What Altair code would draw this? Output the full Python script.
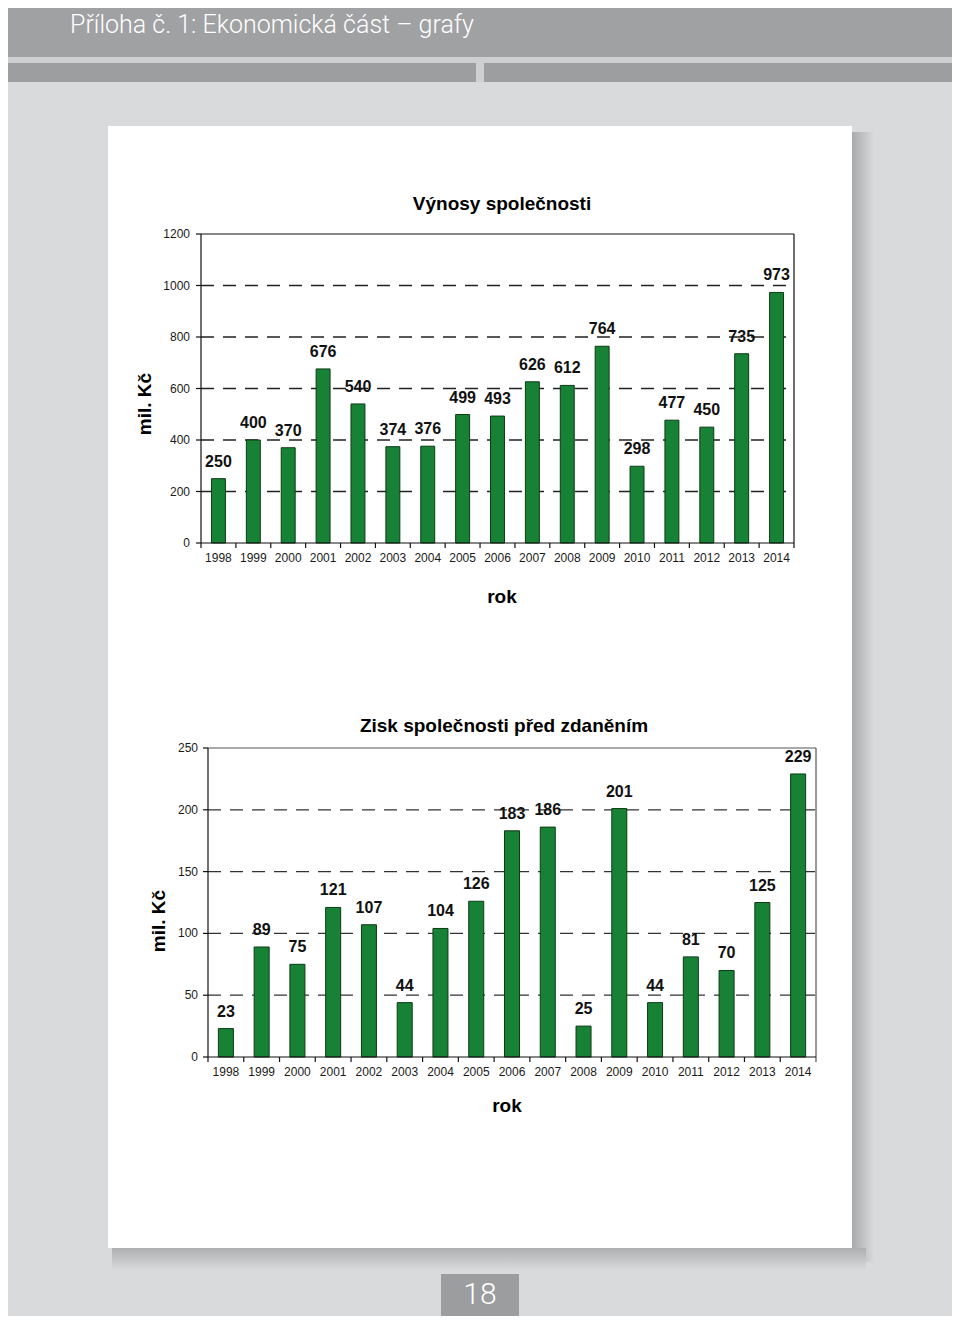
import altair as alt
import pandas as pd

# ---------------- data ----------------
years = [str(y) for y in range(1998, 2015)]
revenue = [250, 400, 370, 676, 540, 374, 376, 499, 493, 626, 612, 764, 298, 477, 450, 735, 973]
profit = [23, 89, 75, 121, 107, 44, 104, 126, 183, 186, 25, 201, 44, 81, 70, 125, 229]
rev_ticks = [0, 200, 400, 600, 800, 1000, 1200]
rev_grid = [200, 400, 600, 800, 1000]
prof_ticks = [0, 50, 100, 150, 200, 250]
prof_grid = [50, 100, 150, 200]

page_title = "Příloha č. 1: Ekonomická část – grafy"
title_top = "Výnosy společnosti"
title_bottom = "Zisk společnosti před zdaněním"
y_title = "mil. Kč"
x_title = "rok"
page_no = "18"

# ---------------- styling ----------------
FONT = "Liberation Sans"
GREEN = "#178236"
EDGE = "#0c3b14"
BG = "#d9dadc"
OX, OY = 8, 8  # page margin -> view coordinates


def px(x):
    return x - OX


def py(y):
    return y - OY


def one():
    return alt.Data(values=[{}])


def rect(x, y, x2, y2, fill):
    return alt.Chart(one()).mark_rect(fill=fill).encode(
        x=alt.value(px(x)), x2=alt.value(px(x2)), y=alt.value(py(y)), y2=alt.value(py(y2))
    )


def hline(x, x2, y, color, w=1.0, dash=None):
    kw = dict(color=color, strokeWidth=w)
    if dash:
        kw["strokeDash"] = dash
    return alt.Chart(one()).mark_rule(**kw).encode(
        x=alt.value(px(x)), x2=alt.value(px(x2)), y=alt.value(py(y))
    )


def vline(x, y, y2, color, w=1.0):
    return alt.Chart(one()).mark_rule(color=color, strokeWidth=w).encode(
        x=alt.value(px(x)), y=alt.value(py(y)), y2=alt.value(py(y2))
    )


def label(txt, x, y, size, weight="normal", color="black", font=FONT, angle=None,
          align="center", baseline="middle"):
    kw = dict(text=txt, fontSize=size, fontWeight=weight, color=color, font=font,
              align=align, baseline=baseline)
    if angle is not None:
        kw["angle"] = angle
    return alt.Chart(one()).mark_text(**kw).encode(x=alt.value(px(x)), y=alt.value(py(y)))


def grad(c0, c1, horizontal=True):
    if horizontal:
        return alt.LinearGradient(gradient="linear", x1=0, x2=1, y1=0, y2=0,
                                  stops=[alt.GradientStop(color=c0, offset=0),
                                         alt.GradientStop(color=c1, offset=1)])
    return alt.LinearGradient(gradient="linear", x1=0, x2=0, y1=0, y2=1,
                              stops=[alt.GradientStop(color=c0, offset=0),
                                     alt.GradientStop(color=c1, offset=1)])


def panel(values, ticks, grid, x0, x1, ybot, ytop, ymax, band, frame, grid_color,
          ylab_x, xlab_y):
    df = pd.DataFrame({"rok": years, "v": values})
    xs = alt.Scale(domain=years, range=[px(x0), px(x1)], paddingInner=0, paddingOuter=0)
    ys = alt.Scale(domain=[0, ymax], range=[py(ybot), py(ytop)], nice=False, zero=True)
    X = alt.X("rok:N", scale=xs, axis=None)
    Y = alt.Y("v:Q", scale=ys, axis=None)
    base = alt.Chart(df)

    gdf = pd.DataFrame({"t": grid})
    tdf = pd.DataFrame({"t": ticks})
    gridlines = alt.Chart(gdf).mark_rule(color=grid_color, strokeWidth=1.3, strokeDash=[13, 9]).encode(
        y=alt.Y("t:Q", scale=ys, axis=None), x=alt.value(px(x0)), x2=alt.value(px(x1))
    )
    yticks = alt.Chart(tdf).mark_rule(color="#111", strokeWidth=1.2).encode(
        y=alt.Y("t:Q", scale=ys, axis=None), x=alt.value(px(x0) - 5), x2=alt.value(px(x0))
    )
    ylabels = alt.Chart(tdf).mark_text(font=FONT, fontSize=12, color="#1a1a1a", align="right",
                                       baseline="middle").encode(
        y=alt.Y("t:Q", scale=ys, axis=None), x=alt.value(ylab_x - OX), text="t:Q"
    )
    bars = base.mark_bar(width=alt.RelativeBandSize(band), fill=GREEN, stroke=EDGE,
                         strokeWidth=1).encode(x=X, y=Y)
    vals = base.mark_text(dy=-17, fontSize=16, fontWeight="bold", font=FONT, color="#111",
                          baseline="middle").encode(x=X, y=Y, text="v:Q")
    xticks = base.mark_rule(color="#111", strokeWidth=1.2).encode(
        x=alt.X("rok:N", scale=xs, axis=None, bandPosition=0),
        y=alt.value(py(ybot)), y2=alt.value(py(ybot) + 5)
    )
    xlabels = base.mark_text(font=FONT, fontSize=12, color="#1a1a1a", baseline="middle").encode(
        x=X, y=alt.value(py(xlab_y)), text="rok:N"
    )
    frame_layers = [
        hline(x0, x1, ytop, frame, 1.2),
        vline(x1, ytop, ybot + 5, frame, 1.2),
        vline(x0, ytop, ybot, "#111", 1.2),
        hline(x0, x1, ybot, "#111", 1.2),
    ]
    return alt.layer(gridlines, bars, vals, yticks, ylabels, xticks, xlabels, *frame_layers)


# ---------------- page decoration ----------------
decor = [
    rect(0, 0, 960, 57, "#a0a1a3"),
    rect(0, 57, 960, 63, "#cecfd1"),
    rect(0, 63, 476, 82, "#9d9ea0"),
    rect(484, 63, 960, 82, "#9d9ea0"),
    rect(476, 63, 484, 82, "#cfd0d2"),
    alt.Chart(one()).mark_rect(fill=grad("#a9aaac", BG)).encode(
        x=alt.value(px(852)), x2=alt.value(px(874)), y=alt.value(py(132)), y2=alt.value(py(1262))),
    alt.Chart(one()).mark_rect(fill=grad("#aeafb1", BG, horizontal=False)).encode(
        x=alt.value(px(112)), x2=alt.value(px(866)), y=alt.value(py(1248)), y2=alt.value(py(1270))),
    rect(108, 126, 852, 1248, "white"),
    rect(441, 1274, 519, 1324, "#9c9d9f"),
    label(page_title, 70, 33, 25, weight=300, color="white", font="Roboto", align="left",
          baseline="alphabetic"),
    label(page_no, 480, 1295, 30, weight=300, color="white", font="Roboto"),
]

top = panel(revenue, rev_ticks, rev_grid, 201, 794, 543, 234, 1200, 0.4, "#111", "#222", 190, 558)
bottom = panel(profit, prof_ticks, prof_grid, 208, 816, 1057, 748, 250, 0.42, "#555", "#333", 198, 1072)

texts = [
    label(title_top, 502, 204, 19, weight="bold"),
    label(y_title, 145, 404, 19, weight="bold", angle=270),
    label(x_title, 502, 597, 19, weight="bold"),
    label(title_bottom, 504, 726, 19, weight="bold"),
    label(y_title, 159, 921, 19, weight="bold", angle=270),
    label(x_title, 507, 1106, 19, weight="bold"),
]

chart = alt.layer(*decor, top, bottom, *texts).resolve_scale(
    x="independent", y="independent"
).properties(
    width=944, height=1308, padding=0, background=BG,
    autosize=alt.AutoSizeParams(type="none"),
).configure_view(stroke=None)

chart.save("out.html", embed_options={"renderer": "svg", "actions": False})
